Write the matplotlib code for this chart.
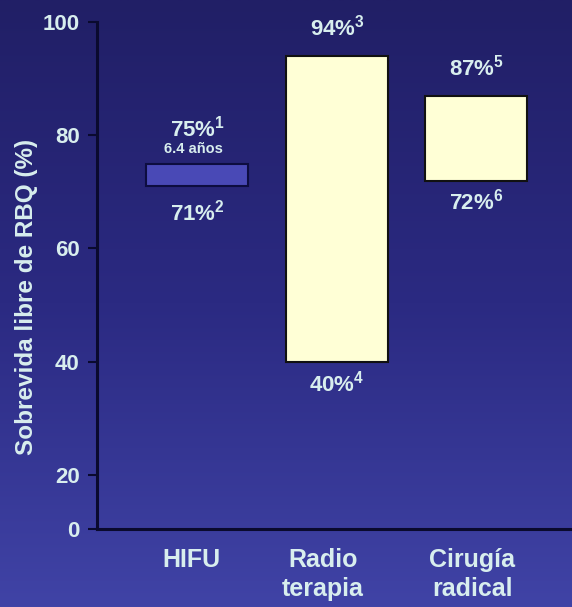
import numpy as np
import matplotlib
matplotlib.use("Agg")
import matplotlib.pyplot as plt
import matplotlib.transforms as mtransforms
from matplotlib.colors import LinearSegmentedColormap

# Data: survival ranges per treatment
categories = ["HIFU", "Radio\nterapia", "Cirugía\nradical"]
lower = [71, 40, 72]
upper = [75, 94, 87]
upper_refs = ["1", "3", "5"]
lower_refs = ["2", "4", "6"]
hifu_note = "6.4 años"
yticks = [0, 20, 40, 60, 80, 100]
ylabel = "Sobrevida libre de RBQ (%)"

# Layout / style
upper_gap_px = [27, 20, 20]       # baseline distance above bar top
lower_gap_px = [34, 30, 29]       # baseline distance below bar bottom
note_gap_px = 11
xlabel_shift_px = [-6, -14, -4]
TEXT = "#D8EEEE"
AXIS = "#0A0A2E"
fills = ["#4949B6", "#FFFFD6", "#FFFFD6"]
edges = ["#0D0D40", "#111111", "#111111"]

plt.rcParams["font.family"] = ["Liberation Sans", "DejaVu Sans"]
plt.rcParams["font.weight"] = "bold"
plt.rcParams["mathtext.fontset"] = "custom"
plt.rcParams["mathtext.bf"] = "Liberation Sans:bold"
plt.rcParams["mathtext.rm"] = "Liberation Sans:bold"

W, H = 572, 607
fig = plt.figure(figsize=(W / 100, H / 100), dpi=100)

# gradient backdrop
bg = fig.add_axes([0, 0, 1, 1], zorder=-10)
grad = np.linspace(0, 1, 256)[:, None]
cmap = LinearSegmentedColormap.from_list("bg", ["#211F66", "#2B2A82", "#4043A6"])
bg.imshow(grad, aspect="auto", cmap=cmap, extent=[0, 1, 0, 1], origin="upper")
bg.axis("off")

left_px, right_px, top_px, bottom_px = 97, 572, 22, 529
ax = fig.add_axes([left_px / W, 1 - bottom_px / H,
                   (right_px - left_px) / W, (bottom_px - top_px) / H])
ax.set_facecolor("none")

# compressed segment below 20
k = 0.477


def fwd(y):
    y = np.asarray(y, dtype=float)
    return np.where(y < 20, 20 - (20 - y) * k, y)


def inv(v):
    v = np.asarray(v, dtype=float)
    return np.where(v < 20, 20 - (20 - v) / k, v)


ax.set_yscale("function", functions=(fwd, inv))
ax.set_ylim(0, 100)
ax.set_xlim(-0.72, 2.685)

x = np.arange(len(categories))
heights = np.array(upper) - np.array(lower)
ax.bar(x, heights, bottom=lower, width=0.731, color=fills,
       edgecolor=edges, linewidth=1.5, zorder=3)

px2pt = 72 / 100
for i in range(len(categories)):
    ax.annotate(rf"$\mathbf{{{upper[i]}\%}}^{{\mathbf{{{upper_refs[i]}}}}}$",
                xy=(x[i], upper[i]), xytext=(0, upper_gap_px[i] * px2pt),
                textcoords="offset points", ha="center", va="baseline",
                fontsize=16, color=TEXT)
    ax.annotate(rf"$\mathbf{{{lower[i]}\%}}^{{\mathbf{{{lower_refs[i]}}}}}$",
                xy=(x[i], lower[i]), xytext=(0, -lower_gap_px[i] * px2pt),
                textcoords="offset points", ha="center", va="baseline",
                fontsize=16, color=TEXT)

ax.annotate(hifu_note, xy=(x[0], upper[0]), xytext=(-3, note_gap_px * px2pt),
            textcoords="offset points", ha="center", va="baseline",
            fontsize=10.5, color=TEXT, fontweight="bold")

ax.set_yticks(yticks)
ax.set_yticklabels([str(t) for t in yticks])
ax.tick_params(axis="y", length=6.5, width=1.5, color=AXIS, pad=6,
               labelsize=16, labelcolor=TEXT, direction="out")
ax.set_xticks(x)
ax.set_xticklabels(categories)
ax.tick_params(axis="x", length=0, pad=14, labelsize=18, labelcolor=TEXT)
for lbl, dx in zip(ax.get_xticklabels(), xlabel_shift_px):
    lbl.set_linespacing(1.25)
    lbl.set_fontweight("bold")
    lbl.set_transform(lbl.get_transform() +
                      mtransforms.ScaledTranslation(dx / 100, 0, fig.dpi_scale_trans))
for lbl in ax.get_yticklabels():
    lbl.set_fontweight("bold")

for side in ("top", "right"):
    ax.spines[side].set_visible(False)
for side in ("left", "bottom"):
    ax.spines[side].set_color(AXIS)
    ax.spines[side].set_linewidth(2.2)

ax.set_ylabel(ylabel, fontsize=17.5, color=TEXT, fontweight="bold")
ax.yaxis.set_label_coords(-0.124, 0.457)

fig.savefig("out.png", dpi=100)
